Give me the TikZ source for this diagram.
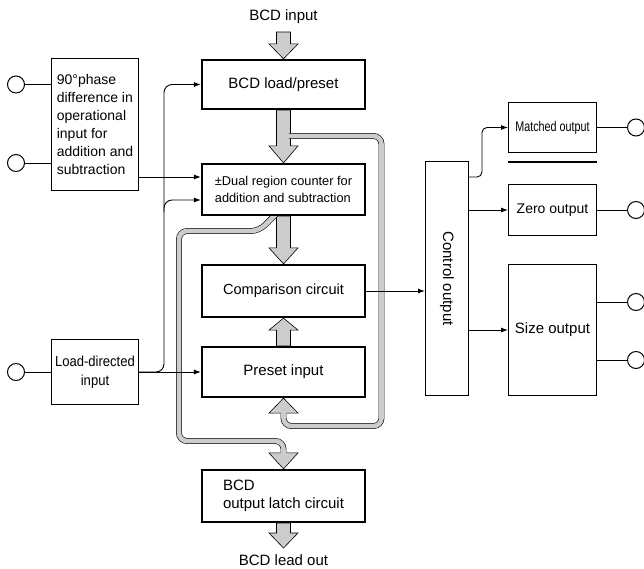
\documentclass[tikz,border=0pt]{standalone}
\usepackage{fontspec}
\setmainfont{Liberation Sans}
\newfontfamily\narrowfont[FakeStretch=0.77]{Liberation Sans}
\newfontfamily\semifont[FakeStretch=0.9]{Liberation Sans}
\usetikzlibrary{arrows.meta,calc,backgrounds}
\definecolor{bandgray}{RGB}{204,204,204}
% wide gray arrow: start, tip, signed head length
\newcommand{\blockarrow}[3]{%
  \draw[bigarrow] let \p1=(#1), \p2=(#2) in
    (\x1-7pt,\y1) -- (\x1-7pt,\y2#3) -- (\x1-14.5pt,\y2#3) -- (\x2,\y2)
    -- (\x1+14.5pt,\y2#3) -- (\x1+7pt,\y2#3) -- (\x1+7pt,\y1) -- cycle;}
\tikzset{
  mainbox/.style={draw, line width=2.2pt, fill=white, minimum width=163pt, inner sep=2pt, font=\fontsize{15}{18}\selectfont},
  sidebox/.style={draw, line width=1pt, fill=white, inner sep=2pt, font=\fontsize{14}{18}\selectfont},
  term/.style={circle, draw, line width=1pt, fill=white, minimum size=17pt, inner sep=0pt},
  conn/.style={line width=0.9pt, -{Latex[length=7pt,width=5pt]}},
  wire/.style={line width=1pt},
  bigarrow/.style={draw=black, line width=0.6pt, fill=bandgray, line join=miter},
  band/.style={draw=black, line width=0.6pt, double=bandgray, double distance=4.6pt, rounded corners=8pt},
}
\begin{document}
\begin{tikzpicture}[x=1pt,y=-1pt]
  \useasboundingbox (0,0) rectangle (644,568);
  % main column
  \node[font=\fontsize{15}{18}\selectfont] (bcdin) at (283.5,17) {BCD input};
  \node[mainbox, minimum height=49pt] (load) at (283.5,84.5) {BCD load/preset};
  \node[mainbox, minimum height=51pt, font=\fontsize{12.8}{17}\selectfont, align=left] (dual) at (283.5,189.5) {±Dual region counter for\\addition and subtraction};
  \node[mainbox, minimum height=52pt, font=\fontsize{14.6}{18}\selectfont] (comp) at (283.5,291) {Comparison circuit};
  \node[mainbox, minimum height=50pt] (preset) at (283.5,372) {Preset input};
  \node[mainbox, minimum height=52pt, align=left] (latch) at (283.5,496) {BCD\\output latch circuit};
  \node[font=\fontsize{15}{18}\selectfont] (bcdout) at (283.5,560) {BCD lead out};
  % inputs
  \node[sidebox, minimum width=87pt, minimum height=132pt, align=left] (phase) at (95,124.5) {90°phase\\difference in\\operational\\input for\\addition and\\subtraction};
  \node[sidebox, minimum width=87pt, minimum height=65pt, font=\semifont\fontsize{14.5}{19}\selectfont, align=center] (ldi) at (95,372) {Load-directed\\input};
  % outputs
  \node[sidebox, minimum width=43pt, minimum height=234pt, font=\fontsize{15}{18}\selectfont] (ctrl) at (447,278.5) {\rotatebox{-90}{Control output}};
  \node[sidebox, minimum width=88pt, minimum height=50pt, font=\narrowfont\fontsize{14}{18}\selectfont] (matched) at (552.5,127.5) {Matched output};
  \node[sidebox, minimum width=88pt, minimum height=51pt] (zero) at (552.5,210) {Zero output};
  \node[sidebox, minimum width=88pt, minimum height=131pt, font=\fontsize{15}{18}\selectfont] (size) at (552.5,330) {Size output};
  \draw[line width=1.4pt] ($(matched.south west)+(0,9)$) -- ($(matched.south east)+(0,9)$);
  % terminals
  \node[term] (t1) at (16,84.5) {};
  \node[term] (t2) at (16,163) {};
  \node[term] (t3) at (16,372) {};
  \node[term] (t4) at (636,127.5) {};
  \node[term] (t5) at (636,210) {};
  \node[term] (t6) at (636,302) {};
  \node[term] (t7) at (636,360) {};
  \draw[wire] (t1) -- (t1 -| phase.west);
  \draw[wire] (t2) -- (t2 -| phase.west);
  \draw[wire] (t3) -- (ldi.west);
  \draw[wire] (matched.east) -- (t4);
  \draw[wire] (zero.east) -- (t5);
  \draw[wire] (t6 -| size.east) -- (t6);
  \draw[wire] (t7 -| size.east) -- (t7);
  % thin signal lines
  \coordinate (bus) at (164,0);
  \coordinate (dualA) at ($(dual.west)+(0,-12.5)$);
  \coordinate (dualB) at ($(dual.west)+(0,10.5)$);
  \draw[conn] (phase.east |- dualA) -- (dualA);
  \draw[conn] (ldi.east) -- (ldi.east -| preset.west);
  \draw[conn, rounded corners=8pt] (ldi.east) -- (ldi.east -| bus) -- (load.west -| bus) -- (load.west);
  \draw[conn, rounded corners=8pt] ($(dualB -| bus)+(0,12)$) -- (dualB -| bus) -- (dualB);
  \draw[conn] (comp.east) -- (comp.east -| ctrl.west);
  \coordinate (ctrlA) at ($(ctrl.north east)+(0,16)$);
  \draw[conn, rounded corners=5pt] (ctrlA) -- ($(ctrlA)+(13,0)$) |- (matched.west);
  \draw[conn] (ctrl.east |- zero.west) -- (zero.west);
  \draw[conn] (ctrl.east |- size.west) -- (size.west);
  % wide data paths
  \begin{pgfonlayer}{background}
    \coordinate (inTop) at (283.5,32);
    \coordinate (outBot) at (283.5,548);
    \blockarrow{inTop}{load.north}{+15pt}
    \blockarrow{load.south}{dual.north}{+17pt}
    \blockarrow{dual.south}{comp.north}{+16pt}
    \blockarrow{preset.north}{comp.south}{-12pt}
    \blockarrow{latch.south}{outBot}{+15pt}
    \draw[band] (280,210) -- (259,231) -- (179,231) -- (179,441) -- (283.5,441) -- (283.5,455);
    \draw[band] (289,136) -- (381.5,136) -- (381.5,426) -- (283.5,426) -- (283.5,412);
    \fill[bandgray] let \p2=(latch.north) in (\x2-14.5pt,\y2+16pt) -- (\x2,\y2) -- (\x2+14.5pt,\y2+16pt) -- cycle;
    \draw[line width=0.6pt] let \p2=(latch.north) in (\x2-2.9pt,\y2+16pt) -- (\x2-14.5pt,\y2+16pt) -- (\x2,\y2) -- (\x2+14.5pt,\y2+16pt) -- (\x2+2.9pt,\y2+16pt);
    \fill[bandgray] let \p2=(preset.south) in (\x2-14.5pt,\y2-15pt) -- (\x2,\y2) -- (\x2+14.5pt,\y2-15pt) -- cycle;
    \draw[line width=0.6pt] let \p2=(preset.south) in (\x2-2.9pt,\y2-15pt) -- (\x2-14.5pt,\y2-15pt) -- (\x2,\y2) -- (\x2+14.5pt,\y2-15pt) -- (\x2+2.9pt,\y2-15pt);
  \end{pgfonlayer}
\end{tikzpicture}
\end{document}
